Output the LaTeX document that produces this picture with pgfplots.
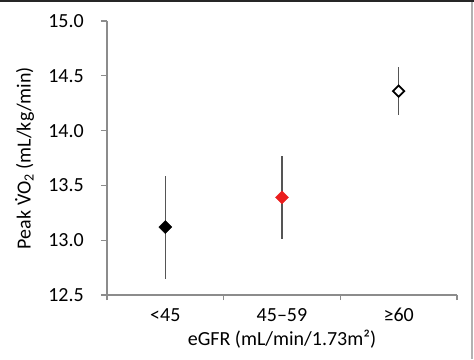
\documentclass[border=0pt]{standalone}
\usepackage{pgfplots}
\pgfplotsset{compat=1.18}
\usepackage{fontspec}
\setmainfont{Carlito}
\definecolor{axgray}{RGB}{140,140,140}
\definecolor{errgray}{RGB}{85,85,85}
\definecolor{myred}{RGB}{235,30,30}
\newcommand{\Vdot}{\ooalign{V\cr\hidewidth\raisebox{0.66em}{.}\hidewidth\cr}}
\begin{document}
\fontsize{20}{24}\selectfont
\begin{tikzpicture}[x=1pt,y=1pt]
\useasboundingbox (0,0) rectangle (474,359);
\fill[black!85] (0,357) rectangle (474,359);
\fill[black!30] (471,0) rectangle (473,357);
\begin{axis}[
  at={(107pt,64pt)}, anchor=south west,
  scale only axis, width=350pt, height=274pt,
  xmin=-0.5, xmax=2.5, ymin=12.5, ymax=15.0,
  axis x line*=bottom, axis y line*=left,
  axis line style={axgray, line width=1.1pt, -},
  xtick={0,1,2}, xticklabels={{<45},{45–59},{≥60}},
  minor xtick={-0.5,0.5,1.5,2.5},
  ytick={12.5,13,13.5,14,14.5,15},
  tick align=outside,
  major tick length=6pt, minor tick length=5pt,
  x tick style={draw=none},
  minor x tick style={draw=axgray, line width=1.1pt},
  y tick style={axgray, line width=1.1pt},
  /pgf/number format/assume math mode=true,
  yticklabel style={/pgf/number format/fixed, /pgf/number format/fixed zerofill, /pgf/number format/precision=1, inner sep=0pt, anchor=east, xshift=-17pt, font=\fontsize{20}{24}\selectfont},
  xticklabel style={inner sep=0pt, anchor=north, yshift=-7pt, font=\fontsize{20}{24}\selectfont},
  xlabel={eGFR (mL/min/1.73m²)},
  ylabel={Peak \Vdot O\textsubscript{2} (mL/kg/min)},
  every axis x label/.style={at={(axis description cs:0.5,0)}, anchor=center, yshift=-44pt, font=\fontsize{20}{24}\selectfont},
  every axis y label/.style={at={(axis description cs:0,0.5)}, xshift=-82pt, anchor=center, rotate=90, font=\fontsize{20}{24}\selectfont},
  clip=false,
]
\addplot[draw=none, mark=square*, mark size=4.6pt, mark options={rotate=45, fill=black, draw=black},
  error bars/.cd, y dir=both, y explicit, error mark=none,
  error bar style={errgray, line width=1.3pt}]
  coordinates {(0,13.12) +- (0,0.47)};
\addplot[draw=none, mark=square*, mark size=4.6pt, mark options={rotate=45, fill=myred, draw=myred},
  error bars/.cd, y dir=both, y explicit, error mark=none,
  error bar style={errgray, line width=1.3pt}]
  coordinates {(1,13.39) +- (0,0.38)};
\addplot[draw=none, mark=square*, mark size=4.0pt, mark options={rotate=45, fill=white, draw=black, line width=1.8pt},
  error bars/.cd, y dir=both, y explicit, error mark=none,
  error bar style={errgray, line width=1.3pt}]
  coordinates {(2,14.36) +- (0,0.22)};
\end{axis}
\end{tikzpicture}
\end{document}
